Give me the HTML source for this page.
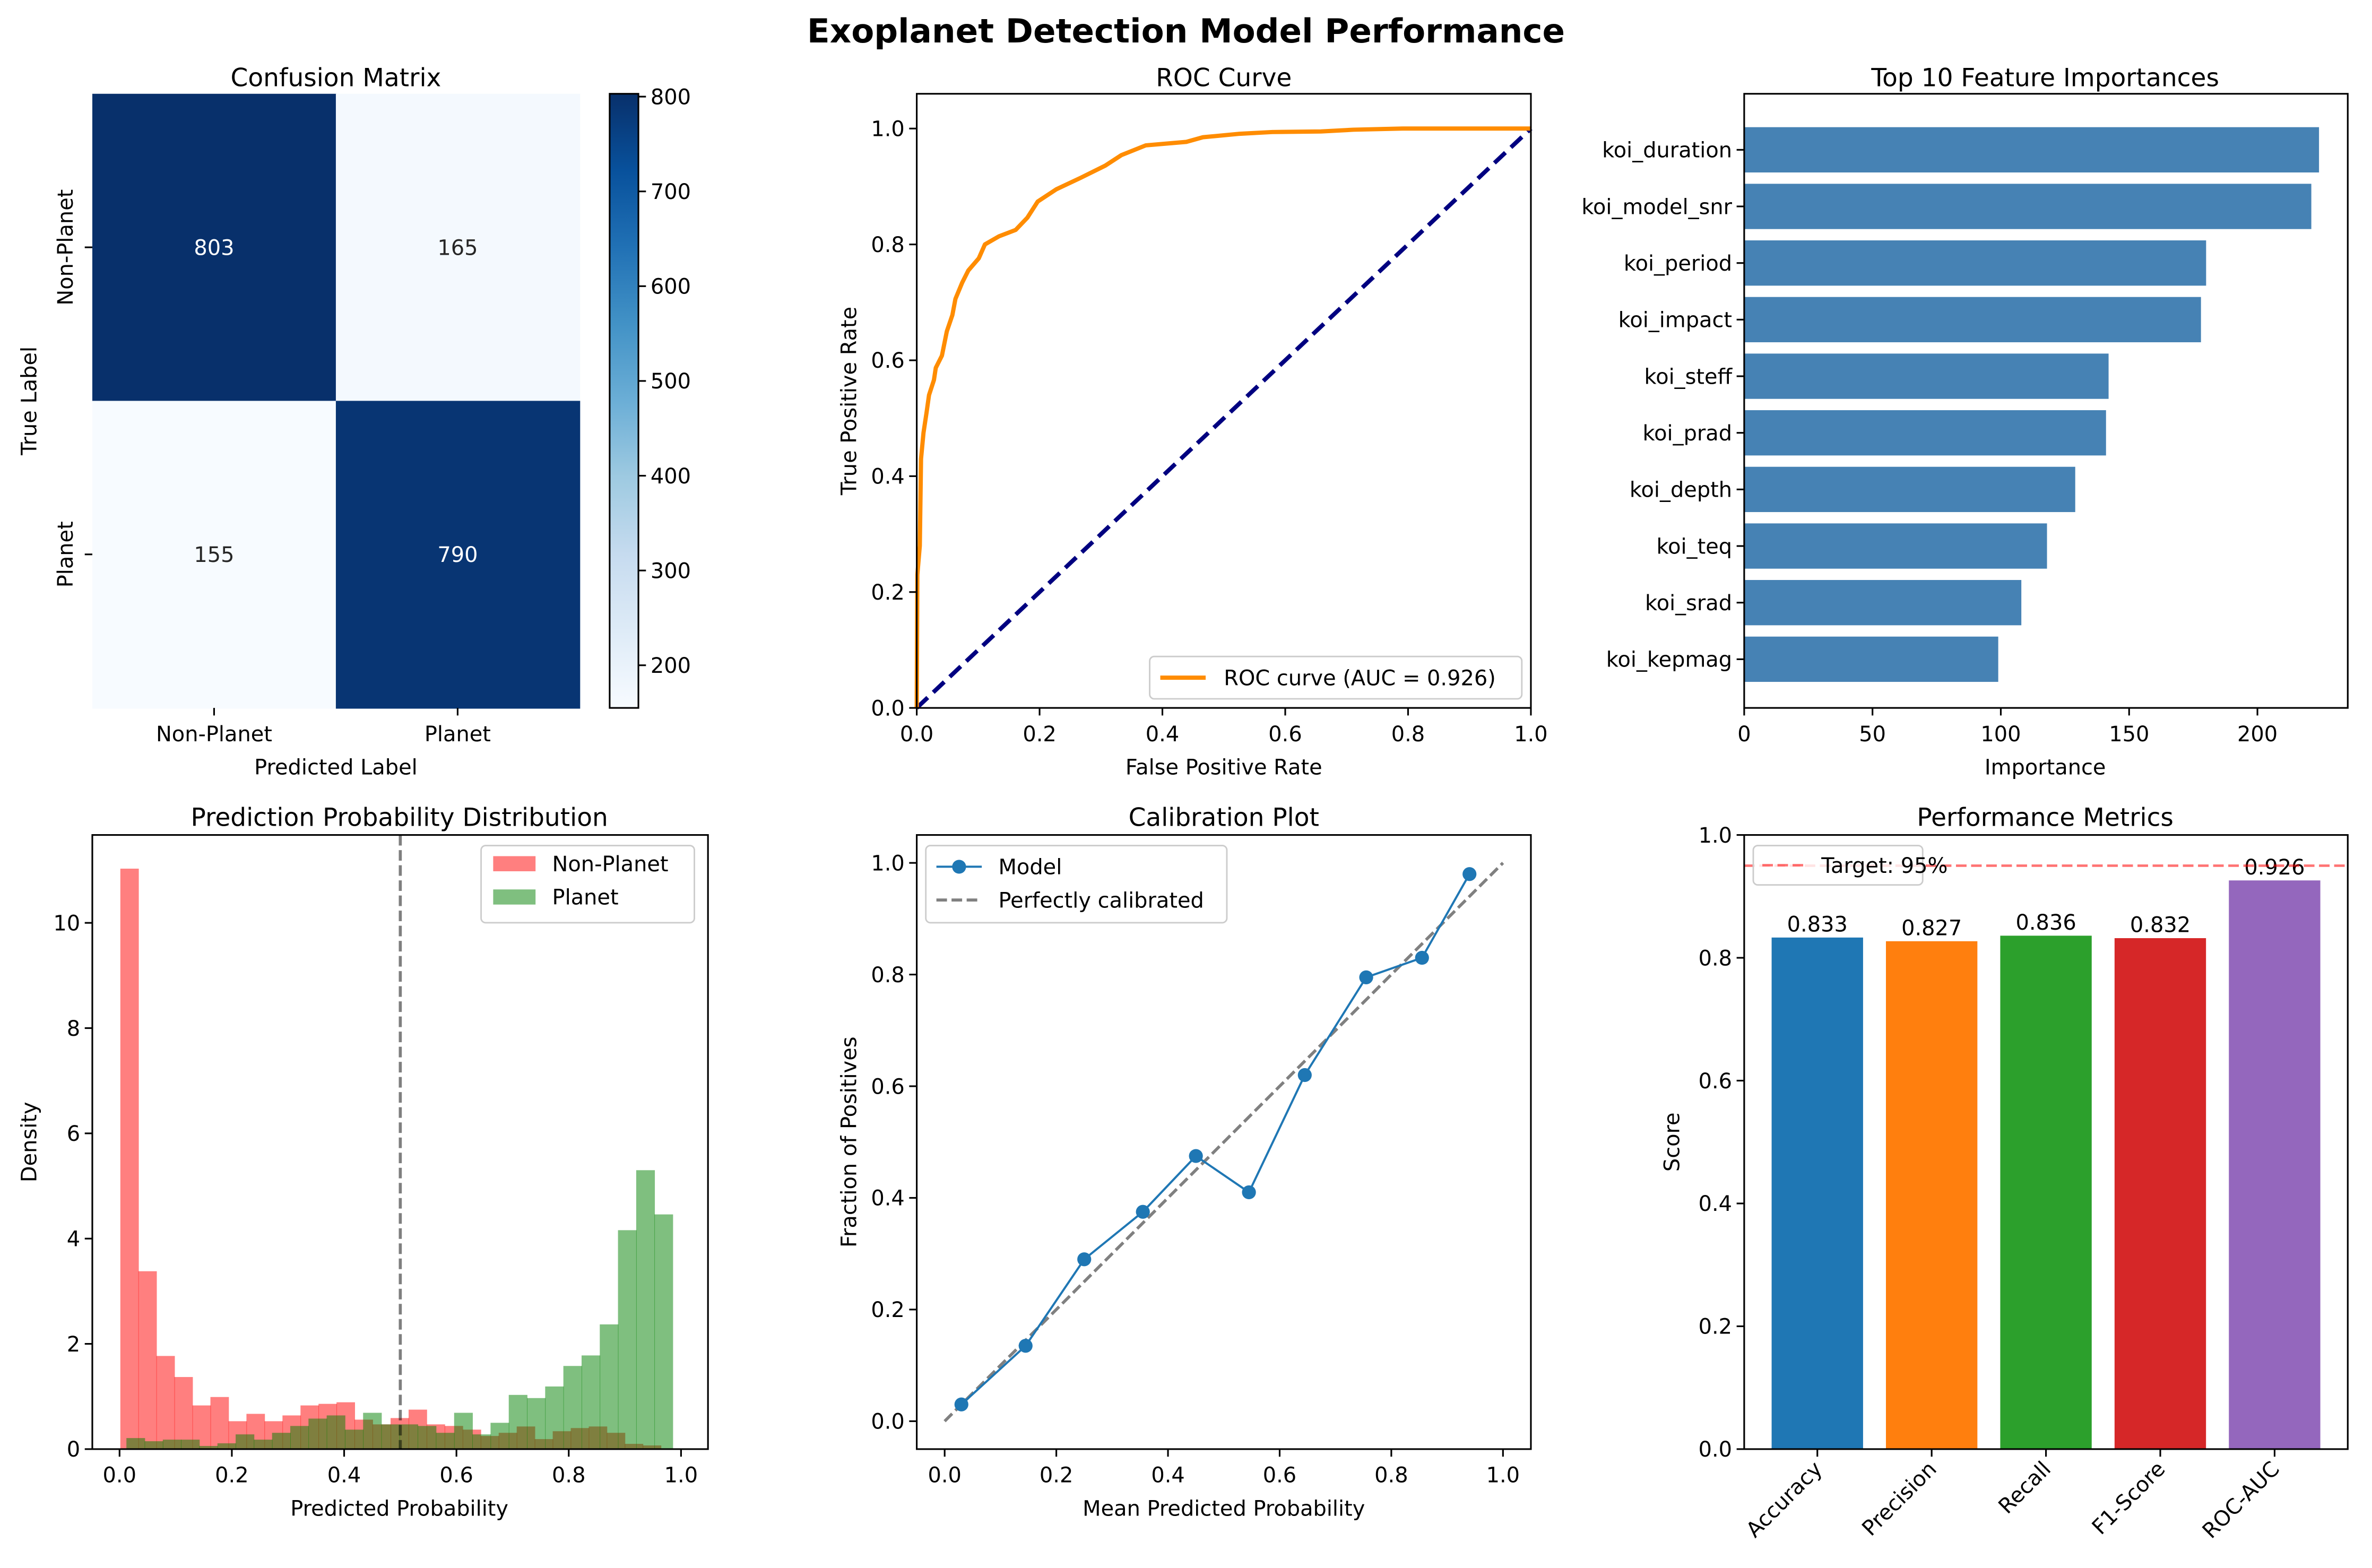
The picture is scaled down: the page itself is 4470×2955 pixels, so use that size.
<!DOCTYPE html>
<html><head><meta charset="utf-8">
<style>
html,body{margin:0;padding:0;background:#fff;}
svg{display:block;}
text{font-family:"DejaVu Sans","Liberation Sans",sans-serif;fill:#000;}
</style></head>
<body>
<svg id="fig" width="4470" height="2955" viewBox="0 0 1568 1036.6" xmlns="http://www.w3.org/2000/svg">
<rect width="1568" height="1036.6" fill="#fff"/>
<text x="784" y="28" text-anchor="middle" font-size="22" font-weight="bold">Exoplanet Detection Model Performance</text>
</svg>
<script>
// ---------- DATA ----------
const cmLabels = ["Non-Planet", "Planet"];
const cmValues = [[803, 165], [155, 790]];
const cbTicks = [200, 300, 400, 500, 600, 700, 800];

const rocFpr = [0,0.001,0.005,0.007,0.011,0.016,0.02,0.028,0.031,0.041,0.049,0.058,0.063,0.074,0.084,0.101,0.111,0.134,0.161,0.18,0.197,0.227,0.267,0.307,0.333,0.373,0.439,0.466,0.526,0.579,0.658,0.711,0.791,1];
const rocTpr = [0,0.23,0.28,0.43,0.475,0.51,0.54,0.566,0.587,0.608,0.65,0.678,0.706,0.734,0.755,0.776,0.80,0.814,0.825,0.846,0.874,0.895,0.915,0.936,0.954,0.971,0.977,0.985,0.991,0.994,0.995,0.998,1,1];
const unitTicks = [0, 0.2, 0.4, 0.6, 0.8, 1.0];

const featNames = ["koi_duration","koi_model_snr","koi_period","koi_impact","koi_steff","koi_prad","koi_depth","koi_teq","koi_srad","koi_kepmag"];
const featValues = [224, 221, 180, 178, 142, 141, 129, 118, 108, 99];
const featTicks = [0, 50, 100, 150, 200];

const histRedStart = 0.0014, histRedEnd = 0.964;
const histRed = [11.03,3.38,1.77,1.37,0.83,0.99,0.53,0.67,0.53,0.64,0.83,0.86,0.89,0.56,0.47,0.59,0.75,0.47,0.44,0.37,0.25,0.31,0.43,0.19,0.34,0.40,0.43,0.31,0.10,0.07];
const histGreenStart = 0.0122, histGreenEnd = 0.985;
const histGreen = [0.21,0.15,0.18,0.18,0.06,0.11,0.28,0.18,0.31,0.44,0.58,0.64,0.37,0.69,0.47,0.47,0.44,0.31,0.69,0.28,0.50,1.03,0.97,1.19,1.58,1.78,2.37,4.16,5.30,4.46];
const histYTicks = [0, 2, 4, 6, 8, 10];

const calX = [0.03,0.145,0.25,0.355,0.45,0.545,0.645,0.755,0.855,0.94];
const calY = [0.03,0.135,0.29,0.375,0.475,0.41,0.62,0.795,0.83,0.98];

const metricNames = ["Accuracy","Precision","Recall","F1-Score","ROC-AUC"];
const metricValues = [0.833, 0.827, 0.836, 0.832, 0.926];
const metricColors = ["#1f77b4","#ff7f0e","#2ca02c","#d62728","#9467bd"];
const metricTarget = 0.95;

// ---------- HELPERS ----------
const NS = "http://www.w3.org/2000/svg";
const fig = document.getElementById("fig");
function el(tag, attrs, parent, txt) {
  const e = document.createElementNS(NS, tag);
  for (const k in attrs) e.setAttribute(k, attrs[k]);
  if (txt !== undefined) e.textContent = txt;
  (parent || fig).appendChild(e);
  return e;
}
function lin(d0, d1, r0, r1) { return v => r0 + (v - d0) / (d1 - d0) * (r1 - r0); }
function fmt1(v) { return v.toFixed(1); }
function frame(x0, y0, x1, y1, name) {
  const r = el("rect", {x:x0, y:y0, width:x1-x0, height:y1-y0, fill:"none", stroke:"#000", "stroke-width":1.1});
  
  
}
function xTicks(vals, sx, yb, labels, name) {
  vals.forEach((v, i) => {
    const x = sx(v);
    const t = el("line", {x1:x, x2:x, y1:yb, y2:yb+5, stroke:"#000", "stroke-width":1.1});
    
    
    const l = el("text", {x:x, y:yb+22, "text-anchor":"middle", "font-size":14}, fig, labels[i]);
    
    
  });
}
function yTicks(vals, sy, xl, labels, name) {
  vals.forEach((v, i) => {
    const y = sy(v);
    const t = el("line", {x1:xl-5, x2:xl, y1:y, y2:y, stroke:"#000", "stroke-width":1.1});
    
    
    const l = el("text", {x:xl-8, y:y+5, "text-anchor":"end", "font-size":14}, fig, labels[i]);
    
    
  });
}
function label(x, y, txt, name, size, rot) {
  const a = {x:x, y:y, "text-anchor":"middle", "font-size":size||14};
  if (rot) a.transform = "rotate(-90 " + x + " " + y + ")";
  const t = el("text", a, fig, txt);
  
  
}
function blues(t) {
  const stops = [[247,251,255],[222,235,247],[198,219,239],[158,202,225],[107,174,214],[66,146,198],[33,113,181],[8,81,156],[8,48,107]];
  t = Math.max(0, Math.min(1, t)) * 8;
  const i = Math.min(7, Math.floor(t)), f = t - i;
  const c = stops[i].map((v, k) => Math.round(v + (stops[i+1][k] - v) * f));
  return "rgb(" + c.join(",") + ")";
}

// ---------- PANEL 1: CONFUSION MATRIX ----------
(function(){
  const x0 = 61, x1 = 383, y0 = 62, y1 = 468;
  const vmin = 155, vmax = 803;
  const cw = (x1 - x0) / 2, ch = (y1 - y0) / 2;
  cmValues.forEach((row, r) => row.forEach((v, c) => {
    const t = (v - vmin) / (vmax - vmin);
    const cell = el("rect", {x:x0 + c*cw, y:y0 + r*ch, width:cw+0.5, height:ch+0.5, fill:blues(t)});
    
    
    const tx = el("text", {x:x0 + c*cw + cw/2, y:y0 + r*ch + ch/2 + 5, "text-anchor":"middle", "font-size":14, style:"fill:" + (t > 0.5 ? "#fff" : "#262626")}, fig, String(v));
    
    
  }));
  cmLabels.forEach((lab, i) => {
    const cx = x0 + i*cw + cw/2, cy = y0 + i*ch + ch/2;
    const t1 = el("line", {x1:cx, x2:cx, y1:y1, y2:y1+5, stroke:"#000", "stroke-width":1.1});
    
    
    label(cx, y1 + 22, lab, 'cm-x-tick-label');
    const t2 = el("line", {x1:x0-5, x2:x0, y1:cy, y2:cy, stroke:"#000", "stroke-width":1.1});
    
    
    label(x0 - 13, cy, lab, 'cm-y-tick-label', 14, true);
  });
  label(222, 57, "Confusion Matrix", 'cm-title', 16.5);
  label(222, 512, "Predicted Label", 'cm-x-axis-title');
  label(24, 265, "True Label", 'cm-y-axis-title', 14, true);
  const cx0 = 403, cx1 = 422;
  const defs = el("defs", {});
  const g = el("linearGradient", {id:"cbgrad", x1:0, y1:1, x2:0, y2:0}, defs);
  for (let i = 0; i <= 8; i++) el("stop", {offset:(i/8), "stop-color":blues(i/8)}, g);
  const cb = el("rect", {x:cx0, y:y0, width:cx1-cx0, height:y1-y0, fill:"url(#cbgrad)", stroke:"#000", "stroke-width":1.1});
  
  
  const sy = lin(vmin, vmax, y1, y0);
  cbTicks.forEach(v => {
    const y = sy(v);
    const t = el("line", {x1:cx1, x2:cx1+5, y1:y, y2:y, stroke:"#000", "stroke-width":1.1});
    
    
    const l = el("text", {x:cx1+8, y:y+5, "font-size":14}, fig, String(v));
    
    
  });
})();

// ---------- PANEL 2: ROC ----------
(function(){
  const x0 = 606, x1 = 1012, y0 = 62, y1 = 468;
  const sx = lin(0, 1, x0, x1), sy = lin(0, 1.06, y1, y0);
  const diag = el("line", {x1:sx(0), y1:sy(0), x2:sx(1), y2:sy(1), stroke:"#000080", "stroke-width":2.8, "stroke-dasharray":"10 5"});
  
  
  const pts = rocFpr.map((f, i) => sx(f).toFixed(2) + "," + sy(rocTpr[i]).toFixed(2)).join(" ");
  const p = el("polyline", {points:pts, fill:"none", stroke:"#ff8c00", "stroke-width":2.8, "stroke-linejoin":"round"});
  
  
  frame(x0, y0, x1, y1, 'roc-axes');
  xTicks(unitTicks, sx, y1, unitTicks.map(fmt1), 'roc-x');
  yTicks(unitTicks, sy, x0, unitTicks.map(fmt1), 'roc-y');
  label(809, 57, "ROC Curve", 'roc-title', 16.5);
  label(809, 512, "False Positive Rate", 'roc-x-axis-title');
  label(566, 265, "True Positive Rate", 'roc-y-axis-title', 14, true);
  const lg = el("rect", {x:760, y:434, width:246, height:28, rx:3, fill:"#fff", stroke:"#ccc", "stroke-width":1});
  
  
  const ll = el("line", {x1:767, x2:797, y1:448, y2:448, stroke:"#ff8c00", "stroke-width":2.8});
  
  
  const lt = el("text", {x:809, y:453, "font-size":14}, fig, "ROC curve (AUC = 0.926)");
  
  
})();

// ---------- PANEL 3: FEATURE IMPORTANCES ----------
(function(){
  const x0 = 1153, x1 = 1552, y0 = 62, y1 = 468;
  const n = featValues.length;
  const sx = lin(0, Math.max(...featValues) * 1.05, x0, x1);
  const sy = lin(-0.99, n - 1 + 0.86, y0, y1);
  featValues.forEach((v, i) => {
    const b = el("rect", {x:x0, y:sy(i - 0.4), width:sx(v) - x0, height:sy(0.4) - sy(-0.4), fill:"#4682b4"});
    
    
    const t = el("line", {x1:x0-5, x2:x0, y1:sy(i), y2:sy(i), stroke:"#000", "stroke-width":1.1});
    
    
    const l = el("text", {x:x0-8, y:sy(i)+5, "text-anchor":"end", "font-size":14}, fig, featNames[i]);
    
    
  });
  frame(x0, y0, x1, y1, 'feature-axes');
  xTicks(featTicks, sx, y1, featTicks.map(String), 'feature-x');
  label(1352, 57, "Top 10 Feature Importances", 'feature-title', 16.5);
  label(1352, 512, "Importance", 'feature-x-axis-title');
})();

// ---------- PANEL 4: HISTOGRAM ----------
(function(){
  const x0 = 61, x1 = 468, y0 = 552, y1 = 958;
  const sx = lin(-0.0485, 1.048, x0, x1), sy = lin(0, 11.67, y1, y0);
  function drawHist(vals, start, end, color, name) {
    const w = (end - start) / vals.length;
    vals.forEach((v, i) => {
      const a = sx(start + i*w), b = sx(start + (i+1)*w);
      const r = el("rect", {x:a, y:sy(v), width:b-a+0.3, height:y1 - sy(v), fill:color, "fill-opacity":0.5});
      
      
    });
  }
  drawHist(histRed, histRedStart, histRedEnd, "#ff0000", 'hist-bar-non-planet');
  drawHist(histGreen, histGreenStart, histGreenEnd, "#008000", 'hist-bar-planet');
  const vl = el("line", {x1:sx(0.5), x2:sx(0.5), y1:y0, y2:y1, stroke:"#000", "stroke-opacity":0.5, "stroke-width":2, "stroke-dasharray":"7 3"});
  
  
  frame(x0, y0, x1, y1, 'hist-axes');
  xTicks(unitTicks, sx, y1, unitTicks.map(fmt1), 'hist-x');
  yTicks(histYTicks, sy, x0, histYTicks.map(String), 'hist-y');
  label(264, 546, "Prediction Probability Distribution", 'hist-title', 16.5);
  label(264, 1002, "Predicted Probability", 'hist-x-axis-title');
  label(24, 755, "Density", 'hist-y-axis-title', 14, true);
  const lg = el("rect", {x:318, y:559, width:141, height:51, rx:3, fill:"#fff", "fill-opacity":0.8, stroke:"#ccc", "stroke-width":1});
  
  
  [["Non-Planet","#ff0000"],["Planet","#008000"]].forEach((e, i) => {
    const s = el("rect", {x:326, y:566 + i*22, width:28, height:10, fill:e[1], "fill-opacity":0.5});
    
    
    const t = el("text", {x:365, y:576 + i*22, "font-size":14}, fig, e[0]);
    
    
  });
})();

// ---------- PANEL 5: CALIBRATION ----------
(function(){
  const x0 = 606, x1 = 1012, y0 = 552, y1 = 958;
  const sx = lin(-0.05, 1.05, x0, x1), sy = lin(-0.05, 1.05, y1, y0);
  const d = el("line", {x1:sx(0), y1:sy(0), x2:sx(1), y2:sy(1), stroke:"#808080", "stroke-width":2, "stroke-dasharray":"7 3"});
  
  
  const pts = calX.map((x, i) => sx(x).toFixed(2) + "," + sy(calY[i]).toFixed(2)).join(" ");
  const p = el("polyline", {points:pts, fill:"none", stroke:"#1f77b4", "stroke-width":1.4});
  
  
  calX.forEach((x, i) => {
    const c = el("circle", {cx:sx(x), cy:sy(calY[i]), r:4.6, fill:"#1f77b4"});
    
    
  });
  frame(x0, y0, x1, y1, 'calibration-axes');
  xTicks(unitTicks, sx, y1, unitTicks.map(fmt1), 'calibration-x');
  yTicks(unitTicks, sy, x0, unitTicks.map(fmt1), 'calibration-y');
  label(809, 546, "Calibration Plot", 'calibration-title', 16.5);
  label(809, 1002, "Mean Predicted Probability", 'calibration-x-axis-title');
  label(566, 755, "Fraction of Positives", 'calibration-y-axis-title', 14, true);
  const lg = el("rect", {x:612, y:559, width:199, height:51, rx:3, fill:"#fff", "fill-opacity":0.8, stroke:"#ccc", "stroke-width":1});
  
  
  const l1 = el("line", {x1:619, x2:649, y1:573, y2:573, stroke:"#1f77b4", "stroke-width":1.4});
  
  
  const c1 = el("circle", {cx:634, cy:573, r:4.6, fill:"#1f77b4"});
  
  
  const t1 = el("text", {x:660, y:578, "font-size":14}, fig, "Model");
  
  
  const l2 = el("line", {x1:619, x2:649, y1:595, y2:595, stroke:"#808080", "stroke-width":2, "stroke-dasharray":"7 3"});
  
  
  const t2 = el("text", {x:660, y:600, "font-size":14}, fig, "Perfectly calibrated");
  
  
})();

// ---------- PANEL 6: METRICS ----------
(function(){
  const x0 = 1153, x1 = 1552, y0 = 552, y1 = 958;
  const n = metricValues.length;
  const sx = lin(-0.64, n - 1 + 0.64, x0, x1), sy = lin(0, 1, y1, y0);
  metricValues.forEach((v, i) => {
    const b = el("rect", {x:sx(i - 0.4), y:sy(v), width:sx(0.4) - sx(-0.4), height:y1 - sy(v), fill:metricColors[i]});
    
    
    const vt = el("text", {x:sx(i), y:sy(v) - 4, "text-anchor":"middle", "font-size":14}, fig, v.toFixed(3));
    
    
    const t = el("line", {x1:sx(i), x2:sx(i), y1:y1, y2:y1+5, stroke:"#000", "stroke-width":1.1});
    
    
    const lx = sx(i) + 4, ly = y1 + 14;
    const l = el("text", {x:lx, y:ly, "text-anchor":"end", "font-size":14, transform:"rotate(-45 " + lx + " " + ly + ")"}, fig, metricNames[i]);
    
    
  });
  const h = el("line", {x1:x0, x2:x1, y1:sy(metricTarget), y2:sy(metricTarget), stroke:"#ff0000", "stroke-opacity":0.55, "stroke-width":1.6, "stroke-dasharray":"7 3"});
  
  
  frame(x0, y0, x1, y1, 'metrics-axes');
  yTicks(unitTicks, sy, x0, unitTicks.map(fmt1), 'metrics-y');
  label(1352, 546, "Performance Metrics", 'metrics-title', 16.5);
  label(1110, 755, "Score", 'metrics-y-axis-title', 14, true);
  const lg = el("rect", {x:1159, y:559, width:112, height:26, rx:3, fill:"#fff", "fill-opacity":0.8, stroke:"#ccc", "stroke-width":1});
  
  
  const ls = el("line", {x1:1165, x2:1195, y1:572, y2:572, stroke:"#ff0000", "stroke-opacity":0.55, "stroke-width":1.6, "stroke-dasharray":"7 3"});
  
  
  const lt = el("text", {x:1204, y:577, "font-size":14}, fig, "Target: 95%");
  
  
})();
</script>
</body></html>
